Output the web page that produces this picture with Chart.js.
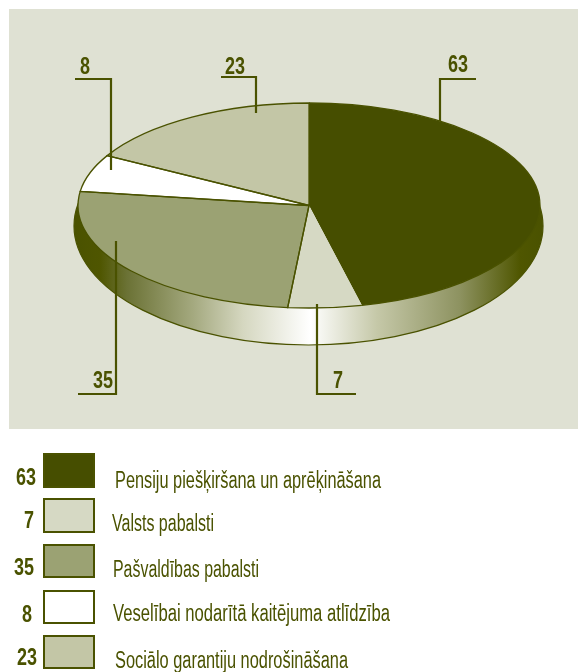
<!DOCTYPE html>
<html>
<head>
<meta charset="utf-8">
<style>html,body{margin:0;padding:0;background:#fff}canvas{display:block}</style>
<script src="https://cdn.jsdelivr.net/npm/chart.js@4"></script>
</head>
<body>
<canvas id="c" width="578" height="672"></canvas>
<script>
const categories = ["Pensiju piešķiršana un aprēķināšana","Valsts pabalsti","Pašvaldības pabalsti","Veselībai nodarītā kaitējuma atlīdzība","Sociālo garantiju nodrošināšana"];
const values = [63,7,35,8,23];
const colors = ["#464e00","#d6d9c4","#9ba273","#ffffff","#c3c6a6"];

const INK = "#4a5200";
const PANEL = {x:9,y:9,w:569,h:420,color:"#dfe1d3"};
const PIE = {cx:309,cy:205.5,ry:102.5};
const SIDE = {cx:308.5,cy:226,rx:234.5,ry:119};
const SIDE_STOPS = [[74,"#4a5200"],[100,"#4f5600"],[127,"#6b7235"],[193,"#a4a97f"],[243,"#d5d7c0"],[310,"#ffffff"],[377,"#c5c8a8"],[460,"#8d9260"],[520,"#4f5600"],[543,"#4a5200"]];
// leader polylines and number positions, by slice index
const LEADERS = [
 {pts:[[440,121],[440,79],[476,79]],tx:458,ty:66},
 {pts:[[317,304],[317,394],[356,394]],tx:338,ty:382},
 {pts:[[116,241],[116,394],[78,394]],tx:103,ty:382},
 {pts:[[111,170],[111,79],[75,79]],tx:85,ty:68},
 {pts:[[256,113],[256,77],[221,77]],tx:235,ty:68}
];
const LEGEND_ROWS = [
 {sy:454,sh:33,nx:26,ny:479,lx:115,ly:482,lw:266},
 {sy:499,sh:33,nx:29,ny:522,lx:112,ly:525,lw:102},
 {sy:545,sh:32,nx:24,ny:569,lx:113,ly:571,lw:146},
 {sy:591,sh:32,nx:27,ny:616,lx:113,ly:615,lw:277},
 {sy:636,sh:32,nx:27,ny:659,lx:115,ly:662,lw:233}
];
const NUM_FONT = "bold 23px 'Liberation Sans'";
const LAB_FONT = "23px 'Liberation Sans'";
const NUM_CONDENSE = 10; // px per digit

function pieTransform(ctx, el){
  ctx.translate(PIE.cx, PIE.cy);
  ctx.scale(1, PIE.ry / el.outerRadius);
  ctx.translate(-el.x, -el.y);
}
function drawNumber(ctx, v, x, y){
  const s = String(v);
  ctx.font = NUM_FONT; ctx.textAlign='center';
  ctx.fillText(s, x, y, s.length*NUM_CONDENSE);
}
const pie3d = {
  id:'pie3d',
  beforeDraw(chart){
    const ctx = chart.ctx;
    ctx.save();
    ctx.fillStyle = PANEL.color;
    ctx.fillRect(PANEL.x,PANEL.y,PANEL.w,PANEL.h);
    ctx.restore();
  },
  beforeDatasetsDraw(chart){
    const ctx = chart.ctx;
    const el = chart.getDatasetMeta(0).data[0];
    ctx.save();
    const g = ctx.createLinearGradient(SIDE.cx-SIDE.rx,0,SIDE.cx+SIDE.rx,0);
    const span = 2*SIDE.rx, x0 = SIDE.cx-SIDE.rx;
    SIDE_STOPS.forEach(s=>g.addColorStop(Math.min(1,Math.max(0,(s[0]-x0)/span)),s[1]));
    ctx.beginPath();
    ctx.ellipse(SIDE.cx,SIDE.cy,SIDE.rx,SIDE.ry,0,0,Math.PI*2);
    ctx.fillStyle = g; ctx.fill();
    ctx.strokeStyle = INK; ctx.lineWidth = 1.2; ctx.stroke();
    ctx.restore();
    ctx.save();
    pieTransform(ctx, el);
  },
  afterDatasetsDraw(chart){
    const ctx = chart.ctx;
    ctx.restore();
    const data = chart.getDatasetMeta(0).data;
    ctx.save();
    ctx.strokeStyle = INK; ctx.lineWidth = 1.3;
    data.forEach((el,i)=>{
      ctx.save();
      pieTransform(ctx, el);
      ctx.beginPath();
      ctx.arc(el.x,el.y,el.outerRadius,el.startAngle,el.endAngle);
      if(i>0){ ctx.lineTo(el.x,el.y); }
      if(i>1){ ctx.closePath(); }
      ctx.restore();
      ctx.stroke();
    });
    // leaders + numbers
    ctx.lineWidth = 2.2; ctx.lineJoin='miter';
    ctx.fillStyle = INK; ctx.textBaseline='middle';
    LEADERS.forEach((l,i)=>{
      ctx.beginPath();
      l.pts.forEach((p,k)=>k?ctx.lineTo(p[0],p[1]):ctx.moveTo(p[0],p[1]));
      ctx.stroke();
      drawNumber(ctx, values[i], l.tx, l.ty);
    });
    // legend
    LEGEND_ROWS.forEach((r,i)=>{
      ctx.fillStyle = colors[i];
      ctx.fillRect(44,r.sy,50,r.sh);
      ctx.lineWidth = 2; ctx.strokeStyle = INK;
      ctx.strokeRect(44,r.sy,50,r.sh);
      ctx.fillStyle = INK;
      drawNumber(ctx, values[i], r.nx, r.ny);
      ctx.font = LAB_FONT; ctx.textAlign='left';
      ctx.fillText(categories[i],r.lx,r.ly,r.lw);
    });
    ctx.restore();
  }
};
new Chart(document.getElementById('c'),{
  type:'pie',
  data:{labels:categories,datasets:[{data:values,backgroundColor:colors,borderWidth:0,clip:false}]},
  options:{
    responsive:false,animation:false,events:[],
    layout:{padding:{left:78,right:38,top:100,bottom:110}},
    plugins:{legend:{display:false},tooltip:{enabled:false}}
  },
  plugins:[pie3d]
});
</script>
</body>
</html>
